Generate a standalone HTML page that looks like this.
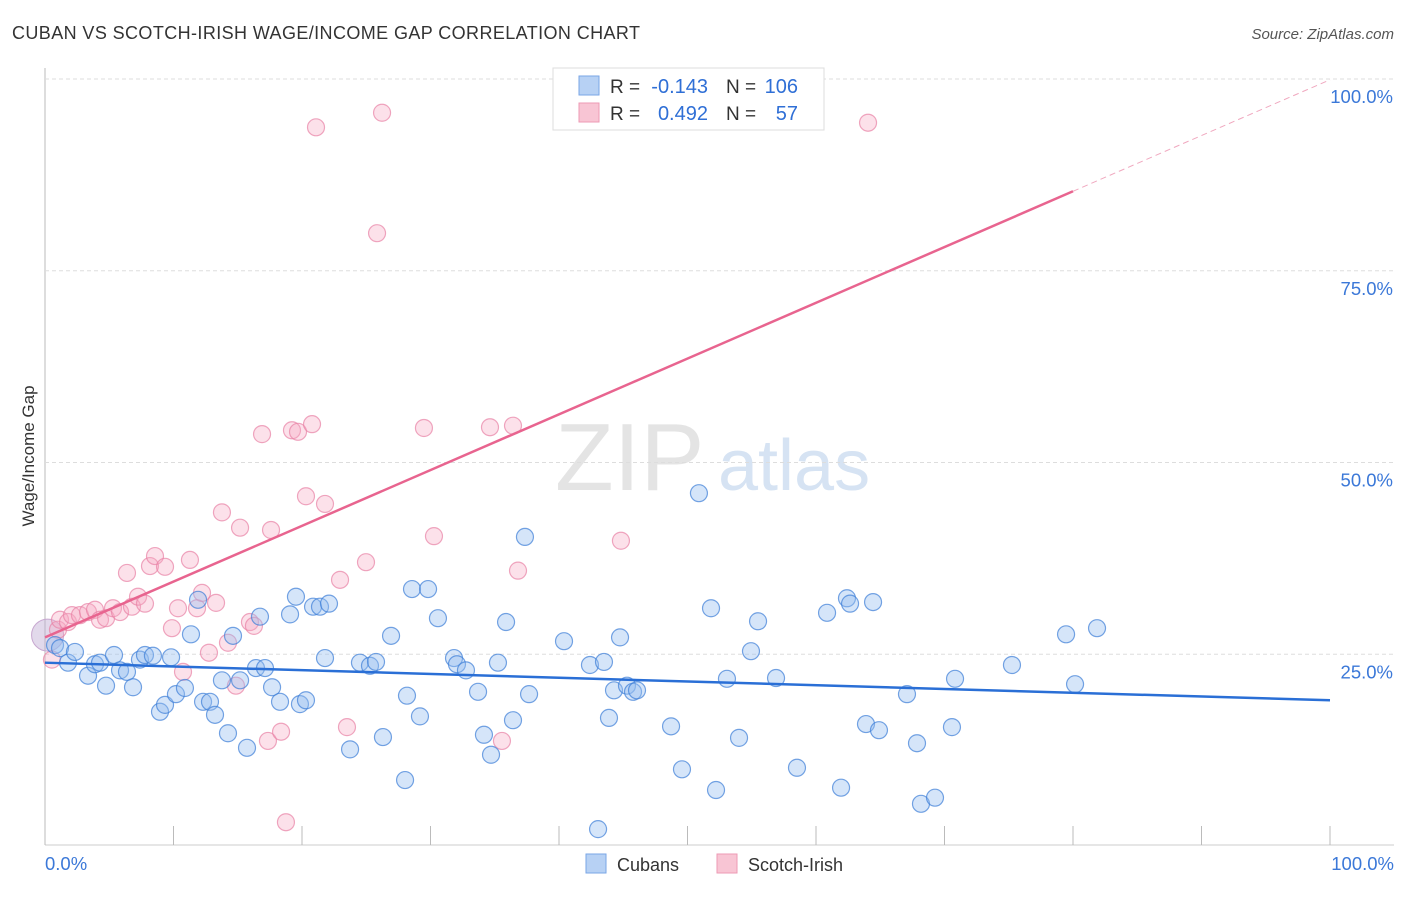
<!DOCTYPE html>
<html><head><meta charset="utf-8"><style>
body{margin:0;background:#fff;font-family:"Liberation Sans",sans-serif}
svg text{font-family:"Liberation Sans",sans-serif}
</style></head><body>
<svg id="c" width="1406" height="892">
<text x="12" y="39" font-size="18" letter-spacing="0.4" fill="#333">CUBAN VS SCOTCH-IRISH WAGE/INCOME GAP CORRELATION CHART</text>
<text x="1394" y="39" font-size="15" fill="#555" text-anchor="end" font-style="italic">Source: ZipAtlas.com</text>
<text x="34" y="456" font-size="17" fill="#333" text-anchor="middle" transform="rotate(-90 34 456)">Wage/Income Gap</text>
<text x="555" y="490" font-size="96" fill="#e4e4e4" font-family="Liberation Serif">ZIP</text>
<text x="718" y="490" font-size="72" fill="#d6e3f3">atlas</text>
<g id="grid"></g><g id="marks"></g>
<g>
<rect x="553" y="68" width="271" height="62" fill="#fff" stroke="#ddd"/>
<rect x="579" y="76" width="20" height="19" fill="#b7d1f4" stroke="#7aa6e6"/>
<rect x="579" y="103" width="20" height="19" fill="#f8c5d4" stroke="#ee9ab4"/>
<text x="610" y="93" font-size="19" fill="#333">R =</text>
<text x="708" y="93" font-size="20" fill="#2f6fd6" text-anchor="end">-0.143</text>
<text x="726" y="93" font-size="19" fill="#333">N =</text>
<text x="798" y="93" font-size="20" fill="#2f6fd6" text-anchor="end">106</text>
<text x="610" y="120" font-size="19" fill="#333">R =</text>
<text x="708" y="120" font-size="20" fill="#2f6fd6" text-anchor="end">0.492</text>
<text x="726" y="120" font-size="19" fill="#333">N =</text>
<text x="798" y="120" font-size="20" fill="#2f6fd6" text-anchor="end">57</text>
</g>
<g>
<rect x="586" y="854" width="20" height="19" fill="#b7d1f4" stroke="#7aa6e6"/>
<text x="617" y="871" font-size="18" fill="#333">Cubans</text>
<rect x="717" y="854" width="20" height="19" fill="#f8c5d4" stroke="#ee9ab4"/>
<text x="748" y="871" font-size="18" fill="#333">Scotch-Irish</text>
</g>
</svg>
<script>
const blueX=[.78,1.17,1.79,2.33,3.35,3.89,4.28,4.75,5.37,5.84,6.38,6.85,7.39,7.78,8.40,8.95,9.34,9.81,10.19,10.89,11.36,11.91,12.30,12.84,13.23,13.77,14.24,14.63,15.18,15.72,16.42,16.73,17.12,17.67,18.29,19.07,19.53,19.84,20.31,20.86,21.40,22.10,21.79,23.74,24.51,25.29,25.76,26.30,26.93,28.02,28.17,28.56,29.18,29.81,30.58,31.83,32.06,32.76,33.70,34.16,34.71,35.25,35.88,36.42,37.35,37.67,40.39,42.41,43.04,43.50,43.89,44.28,44.75,45.29,45.76,46.07,48.72,49.57,50.89,51.83,52.22,53.07,54.01,54.94,55.49,56.89,58.52,60.86,61.95,62.41,62.65,63.89,64.44,64.90,67.08,67.86,68.17,69.26,70.58,70.82,75.25,79.46,80.16,81.87];
const blueY=[26.2,25.8,23.9,25.3,22.2,23.7,23.9,20.9,24.9,22.9,22.7,20.7,24.3,24.9,24.8,17.5,18.4,24.6,19.8,20.6,27.6,32.1,18.8,18.8,17.1,21.6,14.7,27.4,21.6,12.8,23.2,29.9,23.2,20.7,18.8,30.2,32.5,18.5,19.0,31.2,31.2,31.6,24.5,12.6,23.9,23.5,24.0,14.2,27.4,8.6,19.6,33.5,16.9,33.5,29.7,24.5,23.7,22.9,20.1,14.5,11.9,23.9,29.2,16.4,40.3,19.8,26.7,23.6,2.2,24.0,16.7,20.3,27.2,20.9,20.1,20.3,15.6,10.0,46.0,31.0,7.3,21.8,14.1,25.4,29.3,21.9,10.2,30.4,7.6,32.3,31.6,15.9,31.8,15.1,19.8,13.4,5.5,6.3,15.5,21.8,23.6,27.6,21.1,28.4];
const pinkX=[.54,1.01,1.17,1.79,2.10,2.72,3.35,3.89,4.28,4.75,5.29,5.84,6.38,6.77,7.24,7.78,8.17,8.56,9.34,9.88,10.35,10.74,11.28,11.83,12.22,12.76,13.31,13.77,14.24,14.86,15.18,15.95,16.26,16.89,17.35,17.59,18.37,18.75,19.22,19.69,20.31,20.78,21.09,21.79,22.96,23.50,24.98,25.84,26.23,29.49,30.27,34.63,35.56,36.42,36.81,44.82,64.05];
const pinkY=[24.3,28.2,29.5,29.2,30.1,30.1,30.5,30.8,29.5,29.7,31.0,30.5,35.6,31.2,32.5,31.6,36.5,37.8,36.4,28.4,31.0,22.7,37.3,31.0,33.0,25.2,31.7,43.5,26.5,20.9,41.5,29.2,28.7,53.7,13.7,41.2,14.9,3.1,54.2,54.0,45.6,55.0,93.7,44.6,34.7,15.5,37.0,79.9,95.6,54.5,40.4,54.6,13.7,54.8,35.9,39.8,94.3];
const blueTrend=[23.9,19.0];
const pinkTrend=[27.2,99.9];
const yTicks=[25,50,75,100];
const xTickLabels=["0.0%","100.0%"];
const X=v=>45+v*12.85, Y=v=>846-v*7.67;
const NS="http://www.w3.org/2000/svg";
function mk(t,a,p){const e=document.createElementNS(NS,t);for(const k in a)e.setAttribute(k,a[k]);p.appendChild(e);return e;}
const g=document.getElementById('grid'), m=document.getElementById('marks');
let ax=mk('line',{x1:45,y1:68,x2:45,y2:845,stroke:'#bbb'},g);


let bx=mk('line',{x1:45,y1:845,x2:1394,y2:845,stroke:'#ccc'},g);


yTicks.forEach(v=>{
 const l=mk('line',{x1:45,y1:Y(v),x2:1394,y2:Y(v),stroke:'#ddd','stroke-dasharray':'4,3'},g);
 
 
 const t=mk('text',{x:1393,y:Y(v)+24,'font-size':18.5,fill:'#3b78d8','text-anchor':'end'},g);t.textContent=v.toFixed(1)+'%';
 
 
});
for(let i=0;i<=10;i++){const l=mk('line',{x1:X(i*10),y1:826,x2:X(i*10),y2:845,stroke:'#bbb'},g);
 
 }
[[0,'start',45],[100,'end',1394]].forEach((d,i)=>{const t=mk('text',{x:d[2],y:870,'font-size':18.5,fill:'#3b78d8','text-anchor':d[1]},g);t.textContent=xTickLabels[i];
 
 });
let big=mk('circle',{cx:X(0.2),cy:Y(27.5),r:16,fill:'rgba(190,170,210,0.45)',stroke:'#c8a8d0'},m);


pinkX.forEach((x,i)=>{const c=mk('circle',{cx:X(x),cy:Y(pinkY[i]),r:8.5,fill:'rgba(245,170,195,0.35)',stroke:'rgba(232,130,165,0.7)','stroke-width':1.2},m);
 
 });
blueX.forEach((x,i)=>{const c=mk('circle',{cx:X(x),cy:Y(blueY[i]),r:8.5,fill:'rgba(150,190,240,0.4)',stroke:'rgba(60,125,215,0.7)','stroke-width':1.2},m);
 
 });
const pAt=x=>pinkTrend[0]+(pinkTrend[1]-pinkTrend[0])*x/100;
let bl=mk('line',{x1:X(0),y1:Y(blueTrend[0]),x2:X(100),y2:Y(blueTrend[1]),stroke:'#2a6fd6','stroke-width':2.5},m);


let pl=mk('line',{x1:X(0),y1:Y(pAt(0)),x2:X(80),y2:Y(pAt(80)),stroke:'#e8648f','stroke-width':2.5},m);


let pd=mk('line',{x1:X(80),y1:Y(pAt(80)),x2:X(100),y2:Y(pAt(100)),stroke:'#f0a8bf','stroke-width':1,'stroke-dasharray':'6,4'},m);


</script>
</body></html>
